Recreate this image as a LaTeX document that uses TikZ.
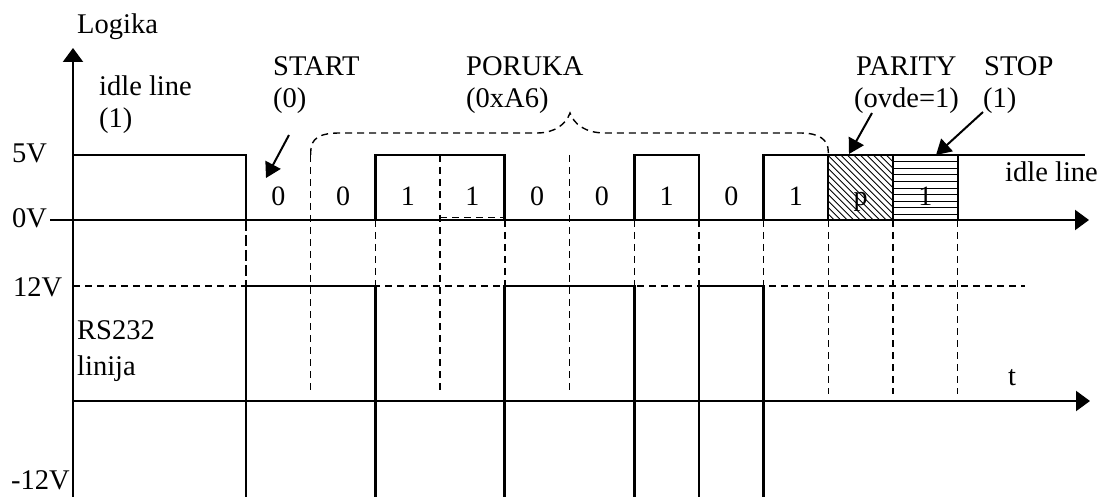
\documentclass[tikz,border=0pt]{standalone}
\usepackage{fontspec}
\setmainfont{Liberation Serif}
\usetikzlibrary{arrows.meta}
\begin{document}
\begin{tikzpicture}[x=1pt,y=-1pt,
  lbl/.style={anchor=base west, inner sep=0pt, font=\fontsize{28.5}{32}\selectfont},
  bitlbl/.style={anchor=base, inner sep=0pt, font=\fontsize{28}{32}\selectfont},
  sig/.style={line width=2.7pt},
  edge/.style={line width=2pt},
  axis/.style={line width=2.2pt, -{Triangle[length=14pt,width=20pt]}},
  dsh/.style={line width=1.4pt, dash pattern=on 7pt off 5pt},
  thickdsh/.style={line width=2.7pt, dash pattern=on 11pt off 4pt},
  ptr/.style={line width=2pt, -{Triangle[length=15pt,width=17pt]}},
  hatch/.style={line width=0.9pt}]
\useasboundingbox (0,0) rectangle (1098,497);

% ---- dashed grid ----
\foreach \k in {1,3,5,9,10,11}
  \draw[dsh] ({246+64.7*\k},{\k<6 ? 155 : 220}) -- ({246+64.7*\k},394);
\foreach \k in {2,4,6,7,8}
  \draw[dsh] ({246+64.7*\k},220) -- ({246+64.7*\k},286);
\draw[thickdsh] (246,220) -- (246,286);
\draw[dsh] (73,286) -- (1025,286);
\draw[dsh, line width=1pt] (440.1,218) -- (504.8,218);

% ---- brace over the message ----
\draw[dsh] (310.7,155) -- (310.7,152) .. controls (310.7,138) and (320,133) .. (340,133)
  -- (537,133) .. controls (555,133) and (566,124) .. (570,113)
  .. controls (574,124) and (585,133) .. (605,133)
  -- (800,133) .. controls (820,133) and (828.3,140) .. (828.3,152) -- (828.3,155);

% ---- hatched parity / stop bits ----
\begin{scope}
  \clip (828.3,155) rectangle (893,220);
  \foreach \c in {-72,-65.5,...,72}
    \draw[hatch] ({828.3+\c},155) -- ({828.3+\c+65},220);
\end{scope}
\foreach \i in {1,...,9}
  \draw[hatch] (893,{155+6.6*\i}) -- (957.7,{155+6.6*\i});
\draw[edge] (828.3,155) -- (828.3,220);
\draw[edge] (893,155) -- (893,220);
\draw[edge] (957.7,155) -- (957.7,220);

% ---- logic signal ----
\draw[sig] (73,155) -- (246,155) -- (246,220);
\draw[sig] (375.4,220) -- (375.4,155) -- (504.8,155) -- (504.8,220);
\draw[sig] (634.2,220) -- (634.2,155) -- (698.9,155) -- (698.9,220);
\draw[sig] (763.6,220) -- (763.6,155) -- (1085,155);

% ---- RS232 signal ----
\draw[sig] (246,500) -- (246,286) -- (375.4,286) -- (375.4,500);
\draw[sig] (504.8,500) -- (504.8,286) -- (634.2,286) -- (634.2,500);
\draw[sig] (698.9,500) -- (698.9,286) -- (763.6,286) -- (763.6,500);

% ---- axes ----
\draw[axis] (73,500) -- (73,48);
\draw[axis] (50,220) -- (1089,220);
\draw[axis] (73,401) -- (1090,401);

% ---- bit labels ----
\foreach \k/\lab in {0/0,1/0,2/1,3/1,4/0,5/0,6/1,7/0,8/1,9/p,10/1}
  \node[bitlbl] (bit\k) at ({246+64.7*\k+32.35},206) {\lab};

% ---- text labels ----
\node[lbl] (logika) at (77,34) {Logika};
\node[lbl] (idleA) at (99,96) {idle line};
\node[lbl] (idleB) at (99,128) {(1)};
\node[lbl] (startA) at (273,76) {START};
\node[lbl] (startB) at (273,108) {(0)};
\node[lbl] (porukaA) at (466,76) {PORUKA};
\node[lbl] (porukaB) at (466,108) {(0xA6)};
\node[lbl] (parA) at (856,76) {PARITY};
\node[lbl] (parB) at (854,108) {(ovde=1)};
\node[lbl] (stopA) at (984,76) {STOP};
\node[lbl] (stopB) at (983,108) {(1)};
\node[lbl] (idleC) at (1005,182) {idle line};
\node[lbl] (vfive) at (12,163) {5V};
\node[lbl] (vzero) at (12,228) {0V};
\node[lbl] (vtwelve) at (13,296) {12V};
\node[lbl] (rsA) at (77,339) {RS232};
\node[lbl] (rsB) at (77,375) {linija};
\node[lbl] (vmtwelve) at (11,489) {-12V};
\node[lbl] (tlbl) at (1008,385) {t};

% ---- pointer arrows ----
\coordinate (startTail) at (289,135);
\coordinate (startHead) at (266,178);
\coordinate (parTail) at (872,113);
\coordinate (parHead) at (849,154);
\coordinate (stopTail) at (983,112);
\coordinate (stopHead) at (936,155);
\draw[ptr] (startTail) -- (startHead);
\draw[ptr] (parTail) -- (parHead);
\draw[ptr] (stopTail) -- (stopHead);
\end{tikzpicture}
\end{document}
